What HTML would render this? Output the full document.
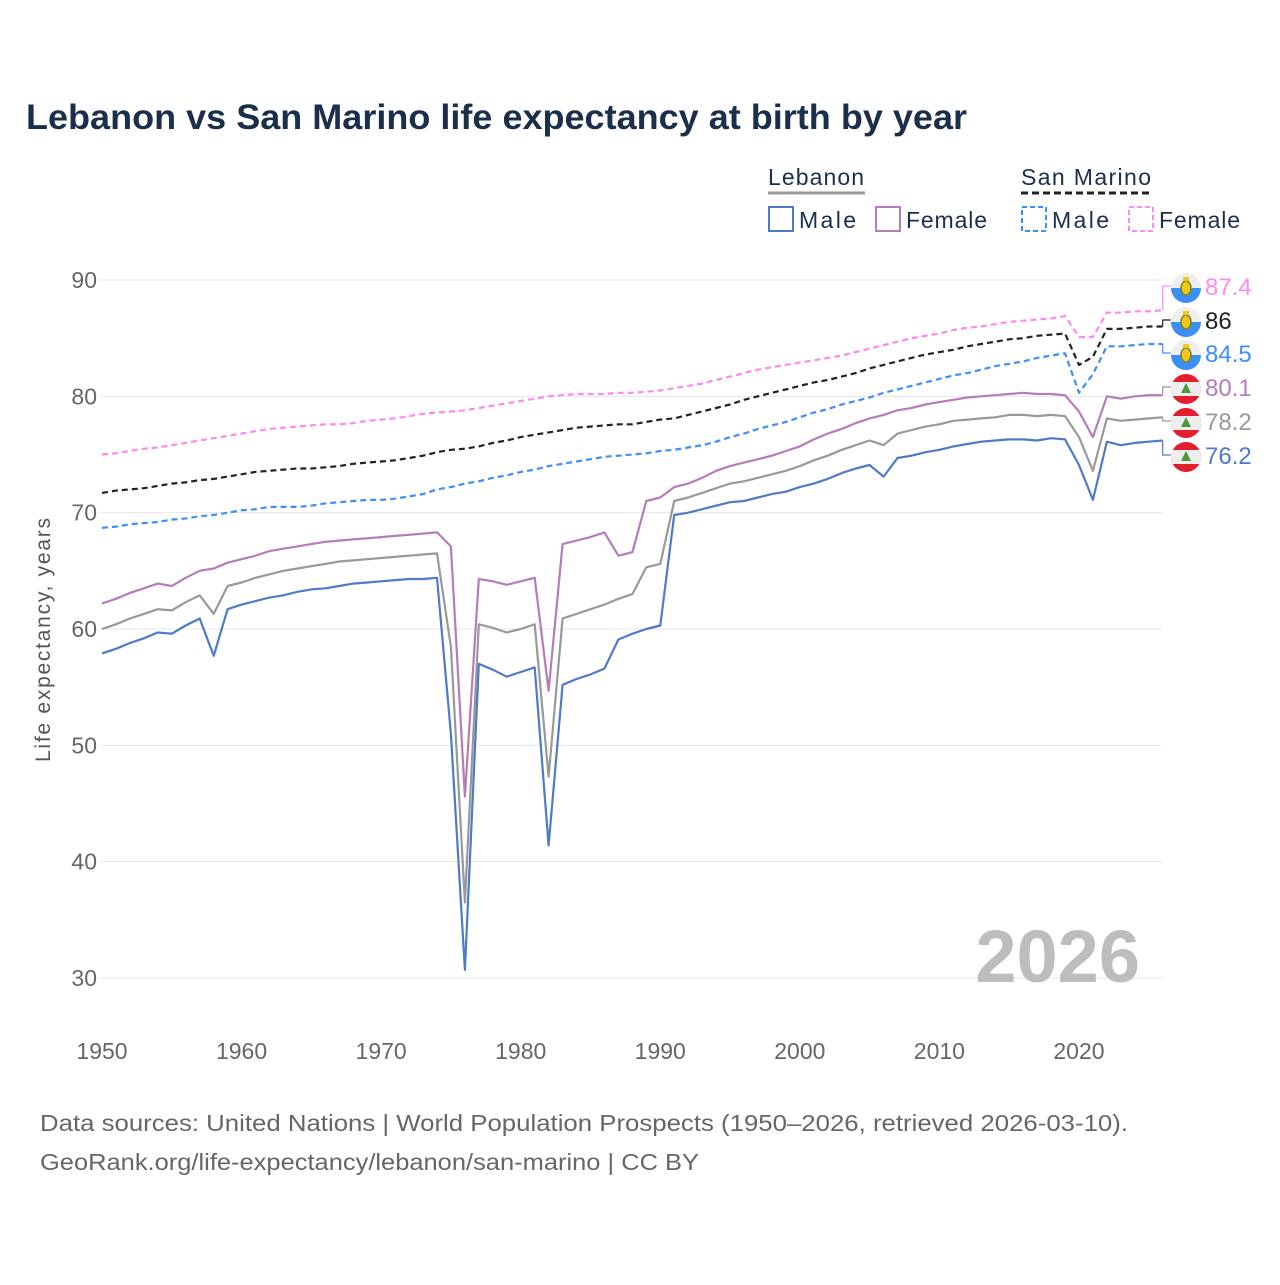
<!DOCTYPE html>
<html><head><meta charset="utf-8">
<style>
body{margin:0;background:#fff;}
svg text{font-family:"Liberation Sans",sans-serif;}
</style></head>
<body>
<svg id="chart" width="1280" height="1280" viewBox="0 0 1280 1280" xmlns="http://www.w3.org/2000/svg">
<rect width="1280" height="1280" fill="#fff"/>
<text x="26" y="129" font-size="35" font-weight="bold" fill="#1b2f4b" textLength="941" lengthAdjust="spacingAndGlyphs">Lebanon vs San Marino life expectancy at birth by year</text>
<g id="legend">
 <text x="768" y="185" font-size="23" fill="#1b2f4b" textLength="96">Lebanon</text>
 <line x1="768" y1="193" x2="865" y2="193" stroke="#999" stroke-width="3"/>
 <text x="1021" y="185" font-size="23" fill="#1b2f4b" textLength="130">San Marino</text>
 <line x1="1021" y1="193" x2="1150" y2="193" stroke="#222" stroke-width="3" stroke-dasharray="7,4"/>
 <g><rect x="769" y="207" width="24" height="24" fill="none" stroke="#4e7ac7" stroke-width="2"/><text x="799" y="228" font-size="23" fill="#1b2f4b" textLength="57">Male</text></g>
 <g><rect x="876" y="207" width="24" height="24" fill="none" stroke="#b57cb8" stroke-width="2"/><text x="906" y="228" font-size="23" fill="#1b2f4b" textLength="81">Female</text></g>
 <g><rect x="1022" y="207" width="24" height="24" fill="none" stroke="#3e8ef7" stroke-width="2" stroke-dasharray="5,3"/><text x="1052" y="228" font-size="23" fill="#1b2f4b" textLength="57">Male</text></g>
 <g><rect x="1129" y="207" width="24" height="24" fill="none" stroke="#ff88f0" stroke-width="2" stroke-dasharray="5,3"/><text x="1159" y="228" font-size="23" fill="#1b2f4b" textLength="81">Female</text></g>
</g>
<g id="grid"></g>
<g id="axes"></g>
<text transform="translate(50,640) rotate(-90)" text-anchor="middle" font-size="21" fill="#555" textLength="244">Life expectancy, years</text>
<text x="1140" y="982" text-anchor="end" font-size="74" font-weight="bold" fill="#bdbdbd">2026</text>
<g id="series"></g>
<g id="endlabels"></g>
<text x="40" y="1131" font-size="23" fill="#666" textLength="1088" lengthAdjust="spacingAndGlyphs">Data sources: United Nations | World Population Prospects (1950–2026, retrieved 2026-03-10).</text>
<text x="40" y="1170" font-size="23" fill="#666" textLength="659" lengthAdjust="spacingAndGlyphs">GeoRank.org/life-expectancy/lebanon/san-marino | CC BY</text>
</svg>
<script>
const startYear = 1950;
const endYear = 2026;
const yTicks = [30,40,50,60,70,80,90];
const xTicks = [1950,1960,1970,1980,1990,2000,2010,2020];
const lebMale = [57.9,58.3,58.8,59.2,59.7,59.6,60.3,60.9,57.7,61.7,
62.1,62.4,62.7,62.9,63.2,63.4,63.5,63.7,63.9,64.0,
64.1,64.2,64.3,64.3,64.4,51.0,30.7,57.0,56.5,55.9,
56.3,56.7,41.4,55.2,55.7,56.1,56.6,59.1,59.6,60.0,
60.3,69.8,70.0,70.3,70.6,70.9,71.0,71.3,71.6,71.8,
72.2,72.5,72.9,73.4,73.8,74.1,73.1,74.7,74.9,75.2,
75.4,75.7,75.9,76.1,76.2,76.3,76.3,76.2,76.4,76.3,
74.1,71.1,76.1,75.8,76.0,76.1,76.2];
const lebTotal = [60.0,60.4,60.9,61.3,61.7,61.6,62.3,62.9,61.3,63.7,
64.0,64.4,64.7,65.0,65.2,65.4,65.6,65.8,65.9,66.0,
66.1,66.2,66.3,66.4,66.5,58.5,36.5,60.4,60.1,59.7,
60.0,60.4,47.3,60.9,61.3,61.7,62.1,62.6,63.0,65.3,
65.6,71.0,71.3,71.7,72.1,72.5,72.7,73.0,73.3,73.6,
74.0,74.5,74.9,75.4,75.8,76.2,75.8,76.8,77.1,77.4,
77.6,77.9,78.0,78.1,78.2,78.4,78.4,78.3,78.4,78.3,
76.5,73.6,78.1,77.9,78.0,78.1,78.2];
const lebFemale = [62.2,62.6,63.1,63.5,63.9,63.7,64.4,65.0,65.2,65.7,
66.0,66.3,66.7,66.9,67.1,67.3,67.5,67.6,67.7,67.8,
67.9,68.0,68.1,68.2,68.3,67.1,45.6,64.3,64.1,63.8,
64.1,64.4,54.7,67.3,67.6,67.9,68.3,66.3,66.6,71.0,
71.3,72.2,72.5,73.0,73.6,74.0,74.3,74.6,74.9,75.3,
75.7,76.3,76.8,77.2,77.7,78.1,78.4,78.8,79.0,79.3,
79.5,79.7,79.9,80.0,80.1,80.2,80.3,80.2,80.2,80.1,
78.7,76.5,80.0,79.8,80.0,80.1,80.1];
const smTotal = [71.7,71.9,72.0,72.1,72.3,72.5,72.6,72.8,72.9,73.1,
73.3,73.5,73.6,73.7,73.8,73.8,73.9,74.0,74.2,74.3,
74.4,74.5,74.7,74.9,75.2,75.4,75.5,75.7,76.0,76.2,
76.5,76.7,76.9,77.1,77.3,77.4,77.5,77.6,77.6,77.8,
78.0,78.1,78.4,78.7,79.0,79.3,79.7,80.0,80.3,80.6,
80.9,81.2,81.4,81.7,82.0,82.4,82.7,83.0,83.3,83.6,
83.8,84.0,84.3,84.5,84.7,84.9,85.0,85.2,85.3,85.4,
82.7,83.4,85.8,85.8,85.9,86.0,86.0];
const smMale = [68.7,68.8,69.0,69.1,69.2,69.4,69.5,69.7,69.8,70.0,
70.2,70.3,70.5,70.5,70.5,70.6,70.8,70.9,71.0,71.1,
71.1,71.2,71.4,71.6,72.0,72.2,72.5,72.7,73.0,73.2,
73.5,73.7,74.0,74.2,74.4,74.6,74.8,74.9,75.0,75.1,
75.3,75.4,75.6,75.8,76.1,76.5,76.8,77.2,77.5,77.8,
78.2,78.6,78.9,79.3,79.6,79.9,80.3,80.6,80.9,81.2,
81.5,81.8,82.0,82.3,82.6,82.8,83.0,83.3,83.5,83.7,
80.3,81.9,84.3,84.3,84.4,84.5,84.5];
const smFemale = [75.0,75.1,75.3,75.5,75.6,75.8,76.0,76.2,76.4,76.6,
76.8,77.0,77.2,77.3,77.4,77.5,77.6,77.6,77.7,77.9,
78.0,78.1,78.3,78.5,78.6,78.7,78.8,79.0,79.2,79.4,
79.6,79.8,80.0,80.1,80.2,80.2,80.2,80.3,80.3,80.4,
80.5,80.7,80.9,81.1,81.4,81.7,82.0,82.3,82.5,82.7,
82.9,83.1,83.3,83.5,83.8,84.1,84.4,84.7,85.0,85.2,
85.4,85.7,85.9,86.0,86.2,86.4,86.5,86.6,86.7,86.9,
85.1,85.1,87.2,87.2,87.3,87.3,87.4];

const NS="http://www.w3.org/2000/svg";
const X0=102, X1=1162.7, Y0=280, Y1=978;
function xs(yr){return X0+(yr-startYear)*(X1-X0)/(endYear-startYear);}
function ys(v){return Y0+(90-v)*(Y1-Y0)/60;}
function mk(tag,attrs,parent){const e=document.createElementNS(NS,tag);for(const k in attrs)e.setAttribute(k,attrs[k]);parent.appendChild(e);return e;}

const grid=document.getElementById('grid'), axes=document.getElementById('axes');
yTicks.forEach(t=>{
  const l=mk('line',{x1:100,x2:1162,y1:ys(t),y2:ys(t),stroke:'#e6e6e6','stroke-width':1},grid);
  
  
  const tx=mk('text',{x:97,y:ys(t)+8,'text-anchor':'end','font-size':23,fill:'#666'},axes);
  tx.textContent=t;
  
  
});
xTicks.forEach(t=>{
  const tx=mk('text',{x:xs(t),y:1059,'text-anchor':'middle','font-size':23,fill:'#666'},axes);
  tx.textContent=t;
  
  
});

const seriesG=document.getElementById('series'), endG=document.getElementById('endlabels');
const defs=[
 {d:smFemale,c:'#ff88f0',dash:'6,4',name:'san-marino-female',ly:286,flag:'sm'},
 {d:smTotal,c:'#222',dash:'6,4',name:'san-marino-total',ly:320,flag:'sm'},
 {d:smMale,c:'#3e8ef7',dash:'6,4',name:'san-marino-male',ly:353,flag:'sm'},
 {d:lebFemale,c:'#b57cb8',dash:null,name:'lebanon-female',ly:387,flag:'lb'},
 {d:lebTotal,c:'#999',dash:null,name:'lebanon-total',ly:421,flag:'lb'},
 {d:lebMale,c:'#4e7ac7',dash:null,name:'lebanon-male',ly:455,flag:'lb'}
];
defs.forEach(s=>{
  const pts=s.d.map((v,i)=>xs(startYear+i).toFixed(1)+','+ys(v).toFixed(1)).join(' ');
  const a={points:pts,fill:'none',stroke:s.c,'stroke-width':2.2,'stroke-linejoin':'round'};
  if(s.dash)a['stroke-dasharray']=s.dash;
  const p=mk('polyline',a,seriesG);
  
  
  const last=s.d[s.d.length-1], ex=xs(endYear), ey=ys(last);
  const con=mk('polyline',{points:`${ex},${ey} ${ex},${s.ly} ${ex+8},${s.ly}`,fill:'none',stroke:s.c,'stroke-width':1.2},endG);
  
  
  const fg=mk('g',{},endG);
  
  
  const cx=1186, cy=s.ly+2;
  const cid='c'+s.name;
  const cp=mk('clipPath',{id:cid},fg); mk('circle',{cx:cx,cy:cy,r:15},cp);
  const g2=mk('g',{'clip-path':`url(#${cid})`},fg);
  if(s.flag==='sm'){
    mk('rect',{x:cx-15,y:cy-15,width:30,height:15,fill:'#eee'},g2);
    mk('rect',{x:cx-15,y:cy,width:30,height:15,fill:'#3e8ef7'},g2);
    mk('ellipse',{cx:cx,cy:cy,rx:5,ry:7,fill:'#f5c518',stroke:'#6a8a2a','stroke-width':1.5},g2);
    mk('rect',{x:cx-3,y:cy-11,width:6,height:4,fill:'#f5c518'},g2);
  } else {
    mk('rect',{x:cx-15,y:cy-15,width:30,height:30,fill:'#e21f2f'},g2);
    mk('rect',{x:cx-15,y:cy-7,width:30,height:14,fill:'#eee'},g2);
    mk('polygon',{points:`${cx},${cy-6} ${cx+5},${cy+4} ${cx-5},${cy+4}`,fill:'#4a9a3a'},g2);
  }
  const t=mk('text',{x:1205,y:s.ly+9,'font-size':24,fill:s.c},endG);
  t.textContent=String(last);
  
  
});
</script>
</body></html>
